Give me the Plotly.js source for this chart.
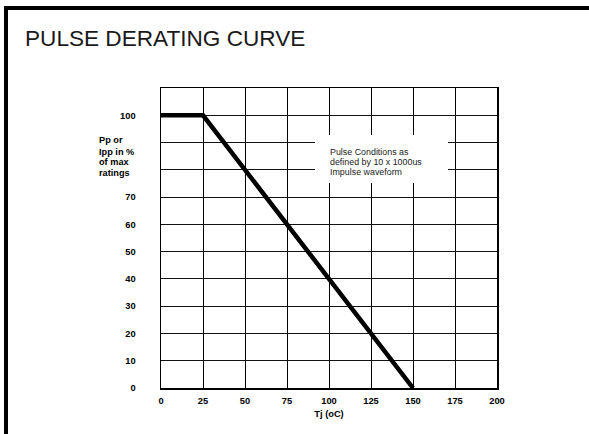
<!DOCTYPE html>
<html>
<head>
<meta charset="utf-8">
<script src="https://cdn.plot.ly/plotly-3.0.1.min.js"></script>
<style>
  html, body { margin: 0; padding: 0; background: #fff; }
  #chart { width: 589px; height: 434px; }
</style>
</head>
<body>
<div id="chart"></div>
<script>
// ---- data ----
const tjValues = [0, 25, 150];          // junction temperature (oC)
const pctValues = [100, 100, 0];        // Pp or Ipp in % of max ratings

const xTickVals = [0, 25, 50, 75, 100, 125, 150, 175, 200];
const xTickText = ['0', '25', '50', '75', '100', '125', '150', '175', '200'];
const yTickVals = [0, 10, 20, 30, 40, 50, 60, 70, 80, 90, 100, 110];
const yTickText = ['0', '10', '20', '30', '40', '50', '60', '70', '', '', '100', ''];

const yLabelLines = ['Pp or', 'Ipp in %', 'of max', 'ratings'];
const noteLines = ['Pulse Conditions as', 'defined by 10 x 1000us', 'Impulse waveform'];

const titleText = 'PULSE DERATING CURVE';
const xTitleText = 'Tj (oC)';

// ---- layout helpers ----
const W = 589, H = 434;
const L = 161, R = 92, T = 88, B = 46;
const pw = W - L - R, ph = H - T - B;
const px2x = p => (p - L) / pw;
const py2y = p => (H - B - p) / ph;

const annotations = [];
const yLabelCenters = [140, 151.5, 162, 173];
yLabelLines.forEach((s, i) => annotations.push({
  text: s, xref: 'paper', yref: 'paper', x: px2x(97), y: py2y(yLabelCenters[i]),
  xanchor: 'left', yanchor: 'middle', showarrow: false,
  font: { family: 'Liberation Sans, Arial, sans-serif', size: 9.2, color: '#000', weight: 'bold' }
}));
const noteCenters = [152, 162, 172];
noteLines.forEach((s, i) => annotations.push({
  text: s, xref: 'paper', yref: 'paper', x: px2x(328), y: py2y(noteCenters[i]),
  xanchor: 'left', yanchor: 'middle', showarrow: false,
  font: { family: 'Liberation Sans, Arial, sans-serif', size: 8.9, color: '#222' }
}));

const shapes = [
  // white box behind the note
  { type: 'rect', xref: 'paper', yref: 'paper', layer: 'above',
    x0: px2x(315), x1: px2x(448), y0: py2y(183), y1: py2y(135),
    fillcolor: '#ffffff', line: { width: 0 } },
  // outer frame (left and top)
  { type: 'line', xref: 'paper', yref: 'paper', x0: px2x(6), x1: px2x(6),
    y0: py2y(6), y1: py2y(440), line: { color: '#000', width: 4 } },
  { type: 'line', xref: 'paper', yref: 'paper', x0: px2x(4), x1: px2x(595),
    y0: py2y(8), y1: py2y(8), line: { color: '#000', width: 4 } }
];

const trace = {
  x: tjValues, y: pctValues, type: 'scatter', mode: 'lines',
  line: { color: '#000', width: 4.5 }, cliponaxis: false, hoverinfo: 'skip'
};

const tickFont = { family: 'Liberation Sans, Arial, sans-serif', size: 9.3, color: '#000', weight: 'bold' };

const layout = {
  width: W, height: H,
  margin: { l: L, r: R, t: T, b: B, pad: 0 },
  paper_bgcolor: '#fff', plot_bgcolor: '#fff',
  showlegend: false,
  title: {
    text: titleText, xref: 'container', yref: 'container',
    x: 25 / W, xanchor: 'left', y: 1 - 38 / H, yanchor: 'middle',
    font: { family: 'Liberation Sans, Arial, sans-serif', size: 22.6, color: '#1a1a1a' }
  },
  xaxis: {
    range: [0, 200], tickvals: xTickVals, ticktext: xTickText,
    showgrid: true, gridcolor: '#000', gridwidth: 1,
    showline: true, linecolor: '#000', linewidth: 1.5, mirror: true,
    zeroline: false, ticks: 'outside', ticklen: 3, tickcolor: 'rgba(0,0,0,0)',
    tickfont: tickFont, fixedrange: true,
    title: { text: xTitleText, font: tickFont, standoff: 6 }
  },
  yaxis: {
    range: [0, 110], tickvals: yTickVals, ticktext: yTickText,
    showgrid: true, gridcolor: '#111', gridwidth: 1,
    showline: true, linecolor: '#000', linewidth: 1.5, mirror: true,
    zeroline: false, ticks: 'outside', ticklen: 22, tickcolor: 'rgba(0,0,0,0)',
    tickfont: tickFont, fixedrange: true
  },
  annotations: annotations,
  shapes: shapes
};

Plotly.newPlot('chart', [trace], layout, { displayModeBar: false, staticPlot: true });
</script>
</body>
</html>
